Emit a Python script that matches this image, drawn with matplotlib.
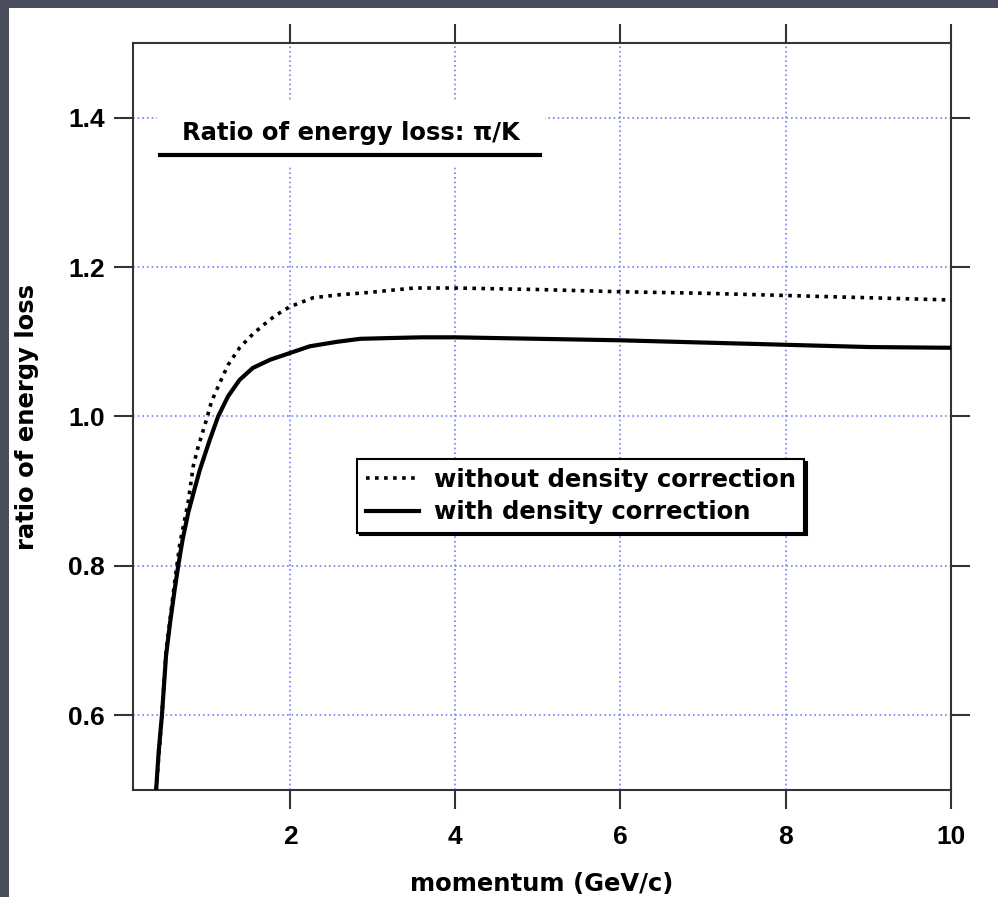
import matplotlib
matplotlib.use("Agg")
import matplotlib.pyplot as plt
from matplotlib.patches import Rectangle
from matplotlib.lines import Line2D

# momentum (GeV/c) and energy-loss ratio pi/K
p_without = [0.38, 0.45, 0.50, 0.55, 0.60, 0.667, 0.767, 0.83, 0.89, 0.99, 1.05,
             1.15, 1.25, 1.39, 1.52, 1.65, 1.82, 2.0, 2.28, 2.6, 2.95, 3.5,
             4.0, 5.0, 6.0, 7.0, 8.0, 9.0, 10.0]
ratio_without = [0.50, 0.60, 0.685, 0.73, 0.775, 0.83, 0.885, 0.934, 0.96, 0.996, 1.02,
                 1.045, 1.069, 1.092, 1.107, 1.12, 1.135, 1.147, 1.159, 1.163, 1.166, 1.172,
                 1.172, 1.170, 1.167, 1.165, 1.162, 1.159, 1.156]

p_with = [0.38, 0.41, 0.45, 0.50, 0.55, 0.60, 0.65, 0.70, 0.77, 0.85, 0.91, 1.03,
          1.13, 1.25, 1.39, 1.55, 1.76, 2.0, 2.24, 2.57,
          2.85, 3.2, 3.6, 4.0, 5.0, 6.0, 7.0, 8.0, 9.0, 10.0]
ratio_with = [0.50, 0.55, 0.60, 0.68, 0.725, 0.765, 0.802, 0.835, 0.872, 0.905, 0.929, 0.969,
              1.0, 1.027, 1.049, 1.065, 1.076, 1.085, 1.094, 1.100,
              1.104, 1.105, 1.106, 1.106, 1.104, 1.102, 1.099, 1.096, 1.093, 1.092]

x_ticks = [2, 4, 6, 8, 10]
y_ticks = [0.6, 0.8, 1.0, 1.2, 1.4]

TEXT_FONT = "DejaVu Sans"
TICK_FONT = "Liberation Sans"

fig = plt.figure(figsize=(9.98, 8.97), dpi=100, facecolor="#4a4e5c")
# white slide area
fig.patches.append(Rectangle((9 / 998, 0), 1, (897 - 8) / 897, transform=fig.transFigure,
                             facecolor="white", edgecolor="none", zorder=-10))

ax = fig.add_axes([133 / 998, 107 / 897, 818 / 998, 747 / 897])
ax.set_facecolor("white")

ax.plot(p_without, ratio_without, color="black", lw=2.6,
        linestyle=(0, (1, 1.5)), dash_capstyle="butt", zorder=3,
        label="without density correction")
ax.plot(p_with, ratio_with, color="black", lw=3.0, zorder=3,
        label="with density correction")

ax.set_xlim(0.1, 10)
ax.set_ylim(0.5, 1.5)
ax.set_xticks(x_ticks)
ax.set_yticks(y_ticks)
ax.set_xticklabels([str(t) for t in x_ticks])
ax.set_yticklabels(["%.1f" % t for t in y_ticks])

ax.grid(True, color="#6f80ff", lw=1.2, linestyle=(0, (1, 1.8)))
ax.set_axisbelow(True)

for s in ax.spines.values():
    s.set_linewidth(1.5)
    s.set_color("#333333")

ax.tick_params(axis="both", which="both", direction="out", length=13.5, width=1.5,
               color="#333333", top=True, right=True)
ax.tick_params(axis="x", pad=12)
ax.tick_params(axis="y", pad=7)
for lab in ax.get_xticklabels() + ax.get_yticklabels():
    lab.set_fontfamily(TICK_FONT)
    lab.set_fontweight("bold")
    lab.set_fontsize(19)

ax.set_xlabel("momentum (GeV/c)", fontfamily=TEXT_FONT, fontweight="bold",
              fontsize=17.5, labelpad=16)
ax.set_ylabel("ratio of energy loss", fontfamily=TEXT_FONT, fontweight="bold",
              fontsize=17.5, labelpad=21)

# title box with underline, masking the grid behind it
ax.add_patch(Rectangle((0.029, 0.837), 0.475, 0.087, transform=ax.transAxes,
                       facecolor="white", edgecolor="none", zorder=2))
ax.text(0.2665, 0.8795, "Ratio of energy loss: \u03c0/K", transform=ax.transAxes,
        ha="center", va="center", fontfamily=TEXT_FONT, fontweight="bold",
        fontsize=17.5, zorder=4)
ax.add_line(Line2D([0.033, 0.4976], [0.8494, 0.8494], transform=ax.transAxes,
                   color="black", lw=3, zorder=4))

leg = ax.legend(loc="upper left", bbox_to_anchor=(0.274, 0.443), borderaxespad=0,
                fancybox=False, shadow={"color": "black", "alpha": 1},
                framealpha=1, edgecolor="black", handlelength=2.2,
                handletextpad=0.6, labelspacing=0.35, borderpad=0.35,
                prop={"family": TEXT_FONT, "weight": "bold", "size": 17.5})
leg.get_frame().set_linewidth(1.5)

fig.savefig("out.png", dpi=100, facecolor=fig.get_facecolor())
